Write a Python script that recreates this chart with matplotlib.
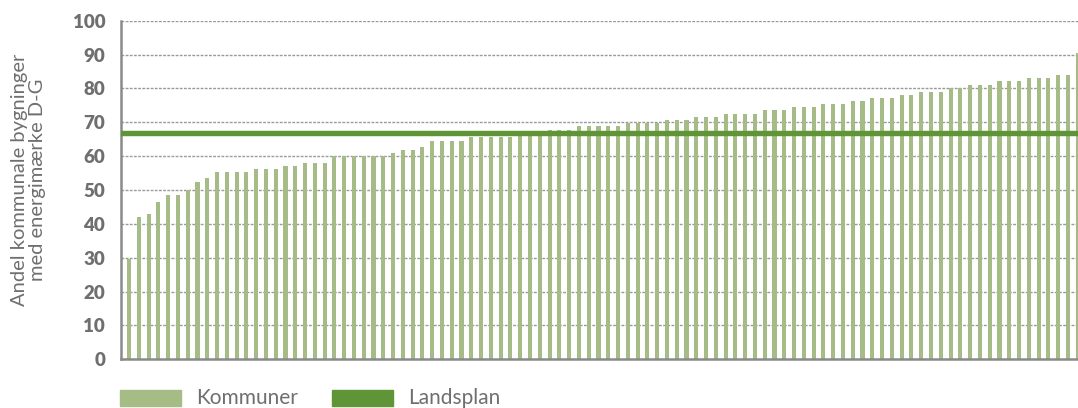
import matplotlib
matplotlib.use("Agg")
import matplotlib.pyplot as plt
from matplotlib.patches import Rectangle
import numpy as np

# ---- data ----
kommuner = [
    29.7, 42.1, 43.0, 46.5, 48.6, 48.6, 50.0, 52.5, 53.4,
    55.4, 55.4, 55.4, 55.4, 56.3, 56.3, 56.3, 57.2, 57.2,
    58.1, 58.1, 58.1, 60.0, 60.0, 60.0, 60.0, 60.0, 60.0,
    61.0, 61.9, 61.9, 62.8, 64.6, 64.6, 64.6, 64.6,
    65.8, 65.8, 65.8, 65.8, 65.8, 66.6, 66.6, 66.6,
    67.8, 67.8, 67.8, 68.8, 68.8, 68.8, 68.8, 68.8,
    69.7, 69.7, 69.7, 69.7, 70.6, 70.6, 70.6, 71.5, 71.5, 71.5,
    72.4, 72.4, 72.4, 72.4, 73.6, 73.6, 73.6, 74.5, 74.5, 74.5,
    75.3, 75.3, 75.3, 76.2, 76.2, 77.1, 77.1, 77.1, 78.0, 78.0,
    78.9, 78.9, 78.9, 80.1, 80.1, 81.0, 81.0, 81.0,
    82.2, 82.2, 82.2, 83.1, 83.1, 83.1, 84.0, 84.0, 90.4,
]
landsplan = 66.8
y_ticks = [0, 10, 20, 30, 40, 50, 60, 70, 80, 90, 100]
ylabel = "Andel kommunale bygninger\nmed energimærke D-G"
legend_labels = ["Kommuner", "Landsplan"]

bar_color = "#a6bc87"
line_color = "#609537"
text_color = "#6f6f6f"
font = ["Lato", "DejaVu Sans"]

plt.rcParams["font.family"] = font

fig = plt.figure(figsize=(10.78, 4.08), dpi=100)
W, H = 1078.0, 408.0
left_px, right_px, top_px, bottom_px = 120.5, 1078.0, 20.7, 359.3
ax = fig.add_axes([left_px / W, (H - bottom_px) / H,
                   (right_px - left_px) / W, (bottom_px - top_px) / H])

x = np.arange(len(kommuner))
ax.bar(x, kommuner, width=0.42, color=bar_color, zorder=2)
ax.axhline(landsplan, color=line_color, lw=3.9, zorder=3)

ax.set_xlim(-0.87, len(kommuner) - 1 + 0.03)
ax.set_ylim(0, 100)
ax.set_yticks(y_ticks)
ax.set_xticks([])
for t in y_ticks[1:]:
    ax.axhline(t, color="#9a9a9a", lw=1.0, ls=(0, (2, 1)), zorder=1)

for s in ["top", "right"]:
    ax.spines[s].set_visible(False)
for s in ["left", "bottom"]:
    ax.spines[s].set_color("#8a8a8a")
    ax.spines[s].set_linewidth(1.8)

ax.tick_params(axis="y", length=0, pad=11, labelsize=13.5, labelcolor=text_color)
for lab in ax.get_yticklabels():
    lab.set_fontweight("heavy")

ax.set_ylabel(ylabel, fontsize=14.5, color=text_color, fontweight="normal",
              linespacing=1.05)
ax.yaxis.set_label_coords((46 - left_px) / (right_px - left_px), 0.53)

# legend (drawn manually to match placement)
handles = [(120, bar_color, legend_labels[0], 196), (332, line_color, legend_labels[1], 408)]
for px, col, lab, tx in handles:
    fig.patches.append(Rectangle((px / W, (H - 405.7) / H), 61 / W, 15.7 / H,
                                 transform=fig.transFigure, color=col))
    fig.text(tx / W, (H - 398) / H, lab, fontsize=15, color=text_color,
             va="center", ha="left", fontweight="normal")

fig.savefig("out.png", dpi=100)
